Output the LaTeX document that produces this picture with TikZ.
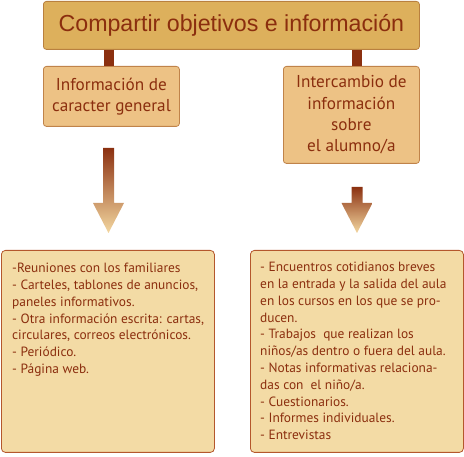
\documentclass[tikz,border=0pt]{standalone}
\usepackage{fontspec}
\setmainfont{PT Sans}
\newfontfamily\titlefont{Liberation Sans}
\usepackage{tikz}
\usetikzlibrary{calc}

\definecolor{txtbrown}{HTML}{8B2E0E}
\definecolor{stembrown}{HTML}{8B3010}
\definecolor{titlefill}{HTML}{DDB05C}
\definecolor{titleline}{HTML}{B9803F}
\definecolor{midfill}{HTML}{EDC285}
\definecolor{midline}{HTML}{C0834A}
\definecolor{listfill}{HTML}{F3DBA5}
\definecolor{listline}{HTML}{B4572C}
\definecolor{arrowlight}{HTML}{F3D7A0}

\begin{document}
\begin{tikzpicture}[x=1pt,y=-1pt,
  titlebox/.style={draw=titleline,fill=titlefill,rounded corners=3pt,line width=0.8pt,
    minimum width=376pt,minimum height=48pt,text=txtbrown,font=\titlefont\fontsize{23.2}{26}\selectfont},
  midbox/.style={draw=midline,fill=midfill,rounded corners=3pt,line width=0.8pt,
    text=txtbrown,align=center,font=\fontsize{17.2}{21.3}\selectfont},
  listbox/.style={draw=listline,fill=listfill,rounded corners=4pt,line width=0.8pt,
    minimum width=213pt,minimum height=202pt},
  listtext/.style={text=txtbrown,align=left,inner sep=0pt,font=\fontsize{13.4}{16.8}\selectfont},
  stem/.style={draw=stembrown,line width=10pt}]
\useasboundingbox (0,0) rectangle (464,457);

\node [titlebox,anchor=north west] (title) at (43,1) {Compartir objetivos e información};

\node [midbox,minimum width=136pt,minimum height=60pt,anchor=north west] (general) at (43,66)
  {Información de\\caracter general};
\node [midbox,minimum width=136pt,minimum height=97pt,anchor=north west] (alumno) at (283,66)
  {Intercambio de\\información\\sobre\\el alumno/a};

\node [listbox,anchor=north west] (generalList) at (1,250) {};
\node [listbox,anchor=north west] (alumnoList) at (250,250) {};

\node [listtext,anchor=north west] (generalText) at ($(generalList.north west)+(11,13)$)
  {-Reuniones con los familiares\\
   - Carteles, tablones de anuncios,\\
   paneles informativos.\\
   - Otra información escrita: cartas,\\
   circulares, correos electrónicos.\\
   - Periódico.\\
   - Página web.};
\node [listtext,anchor=north west] (alumnoText) at ($(alumnoList.north west)+(10,12)$)
  {- Encuentros cotidianos breves\\
   en la entrada y la salida del aula\\
   en los cursos en los que se pro-\\
   ducen.\\
   - Trabajos\ \ que realizan los\\
   niños/as dentro o fuera del aula.\\
   - Notas informativas relaciona-\\
   das con\ \ el niño/a.\\
   - Cuestionarios.\\
   - Informes individuales.\\
   - Entrevistas};

% stems from the title box
\draw [stem] (title.south -| 109,0) -- (general.north -| 109,0);
\draw [stem] (title.south -| 357,0) -- (alumno.north -| 357,0);

% shaded arrows down to the lists
\coordinate (g1) at ($(general.south -| 108.5,0)+(0,21)$);
\coordinate (g2) at ($(generalList.north -| 108.5,0)+(0,-17)$);
\coordinate (a1) at ($(alumno.south -| 357,0)+(0,23)$);
\coordinate (a2) at ($(alumnoList.north -| 357,0)+(0,-17)$);
\foreach \s/\e in {g1/g2,a1/a2}{
  \shade [top color=stembrown,bottom color=arrowlight]
    ($(\s)+(-5.5,0)$) -- ($(\e)+(-5.5,-30)$) -- ($(\e)+(-15.5,-30)$) -- (\e)
    -- ($(\e)+(15.5,-30)$) -- ($(\e)+(5.5,-30)$) -- ($(\s)+(5.5,0)$) -- cycle;
}
\end{tikzpicture}
\end{document}
